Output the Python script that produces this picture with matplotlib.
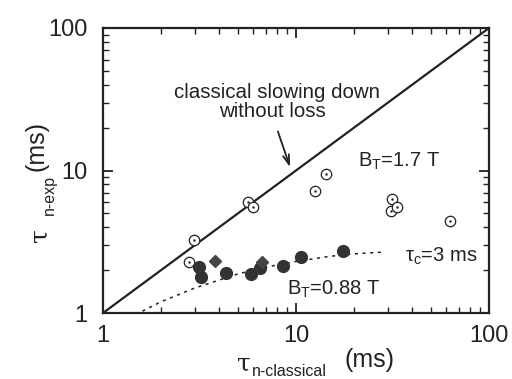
import numpy as np
import matplotlib.pyplot as plt
from matplotlib.ticker import NullFormatter

plt.rcParams['font.family'] = ['Liberation Sans', 'DejaVu Sans']
plt.rcParams['mathtext.fontset'] = 'custom'
plt.rcParams['mathtext.rm'] = 'Liberation Sans'
plt.rcParams['mathtext.it'] = 'Liberation Sans:italic'

# B_T = 1.7 T, open circles
open_x = [2.97, 2.80, 5.66, 5.97, 12.5, 14.3, 31.3, 31.1, 33.5, 62.8]
open_y = [3.25, 2.29, 6.04, 5.57, 7.21, 9.45, 6.28, 5.22, 5.57, 4.44]

# B_T = 0.88 T, filled circles
fill_x = [3.16, 3.22, 4.32, 5.85, 6.51, 8.60, 10.6, 17.5]
fill_y = [2.09, 1.80, 1.92, 1.88, 2.08, 2.14, 2.46, 2.74]

# filled diamonds
dia_x = [3.80, 6.64]
dia_y = [2.33, 2.27]

# tau_c = 3 ms curve
curve_x = [1.6, 2.0, 3.0, 5.0, 7.0, 10.0, 15.0, 20.0, 29.0]
curve_y = [1.03, 1.2, 1.5, 1.88, 2.1, 2.3, 2.5, 2.6, 2.68]

# classical slowing down line
diag = [1, 100]

ink = '#222222'

fig = plt.figure(figsize=(5.12, 3.79), dpi=100)
ax = fig.add_axes([103/512, 1-313/379, 386/512, 285/379])

ax.plot(diag, diag, color=ink, lw=1.6)
ax.plot(curve_x, curve_y, color=ink, lw=1.1, linestyle=(0, (2, 3)))
ax.plot(open_x, open_y, 'o', ms=7.5, mfc='white', mec=ink, mew=0.9)
ax.plot(open_x, open_y, '.', ms=1.5, color=ink)
ax.plot(fill_x, fill_y, 'o', ms=8.5, color='#333333')
ax.plot(dia_x, dia_y, 'D', ms=6.5, color='#444444')

ax.set_xscale('log')
ax.set_yscale('log')
ax.set_xlim(1, 100)
ax.set_ylim(1, 100)
ax.set_xticks([1, 10, 100])
ax.set_xticklabels(['1', '10', '100'])
ax.set_yticks([1, 10, 100])
ax.set_yticklabels(['1', '10', '100'])
ax.xaxis.set_minor_formatter(NullFormatter())
ax.yaxis.set_minor_formatter(NullFormatter())
ax.tick_params(which='both', direction='in', top=True, right=True, colors=ink, labelsize=17)
ax.tick_params(which='major', length=7, width=1.3)
ax.tick_params(which='minor', length=4, width=1.0)
ax.tick_params(axis='x', pad=9)
ax.tick_params(axis='y', pad=11)
for s in ax.spines.values():
    s.set_linewidth(1.6)
    s.set_color(ink)

ax.text(7.97, 32.3, 'classical slowing down', ha='center', va='baseline', fontsize=14.8, color=ink)
ax.text(7.56, 23.7, 'without loss', ha='center', va='baseline', fontsize=14.8, color=ink)
ax.annotate('', xy=(9.42, 10.1), xytext=(7.97, 19.6),
            arrowprops=dict(arrowstyle='->,head_length=0.7,head_width=0.22', color=ink, lw=1.3))

ax.text(20.9, 10.6, r'B$_\mathrm{T}$=1.7 T', fontsize=14.5, color=ink, va='baseline')
ax.text(8.98, 1.34, r'B$_\mathrm{T}$=0.88 T', fontsize=14.5, color=ink, va='baseline')
ax.text(36.7, 2.28, r'$\mathrm{\tau}_\mathrm{c}$=3 ms', fontsize=14.5, color=ink, va='baseline')

# axis labels, built from pieces
fig.text(237/512, 1-370/379, '\u03c4', fontsize=18, color=ink, family='DejaVu Serif')
fig.text(252/512, 1-376/379, 'n-classical', fontsize=11.5, color=ink)
fig.text(345/512, 1-367/379, '(ms)', fontsize=18, color=ink)

fig.text(28/512, 1-237/379, '\u03c4', fontsize=18, color=ink, rotation=90, family='DejaVu Serif')
fig.text(42/512, 1-212/379, 'n-exp', fontsize=11.5, color=ink, rotation=90)
fig.text(25/512, 1-166/379, '(ms)', fontsize=18, color=ink, rotation=90)

fig.savefig('out.png', dpi=100)
